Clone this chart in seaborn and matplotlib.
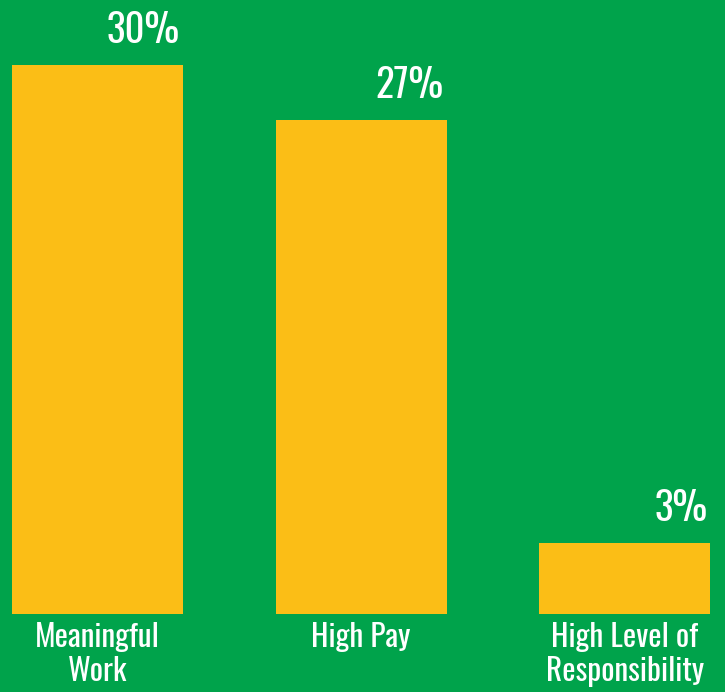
import matplotlib
matplotlib.use("Agg")
import matplotlib.pyplot as plt
import seaborn as sns
import pandas as pd

categories = ["Meaningful\nWork", "High Pay", "High Level of\nResponsibility"]
values = [30, 27, 3.9]
value_labels = ["30%", "27%", "3%"]

GREEN = "#00A34B"
YELLOW = "#FBBE16"

sns.set_theme(style="white")
plt.rcParams["font.family"] = ["Oswald", "DejaVu Sans"]

df = pd.DataFrame({"category": categories, "value": values})

fig = plt.figure(figsize=(7.25, 6.92), dpi=100, facecolor=GREEN)
ax = fig.add_axes([0, 1 - 614 / 692, 1, 614 / 692])
ax.set_facecolor(GREEN)

sns.barplot(data=df, x="category", y="value", color=YELLOW, saturation=1,
            width=0.648, ax=ax, linewidth=0)

ax.set_xlim(-0.37, 2.38)
ax.set_ylim(0, 614 / (549 / 30))
ax.set_xlabel("")
ax.set_ylabel("")
ax.set_yticks([])
for s in ax.spines.values():
    s.set_visible(False)
ax.tick_params(axis="x", length=0, pad=6)
for t in ax.get_xticklabels():
    t.set_color("white")
    t.set_fontsize(22.5)
    t.set_fontweight(500)
    t.set_linespacing(1.12)

for i, (v, lab) in enumerate(zip(values, value_labels)):
    ax.annotate(lab, xy=(i + 0.648 / 2, v), xytext=(-3, 22),
                textcoords="offset pixels", ha="right", va="baseline",
                color="white", fontsize=28)

fig.savefig("out.png", dpi=100, facecolor=GREEN)
